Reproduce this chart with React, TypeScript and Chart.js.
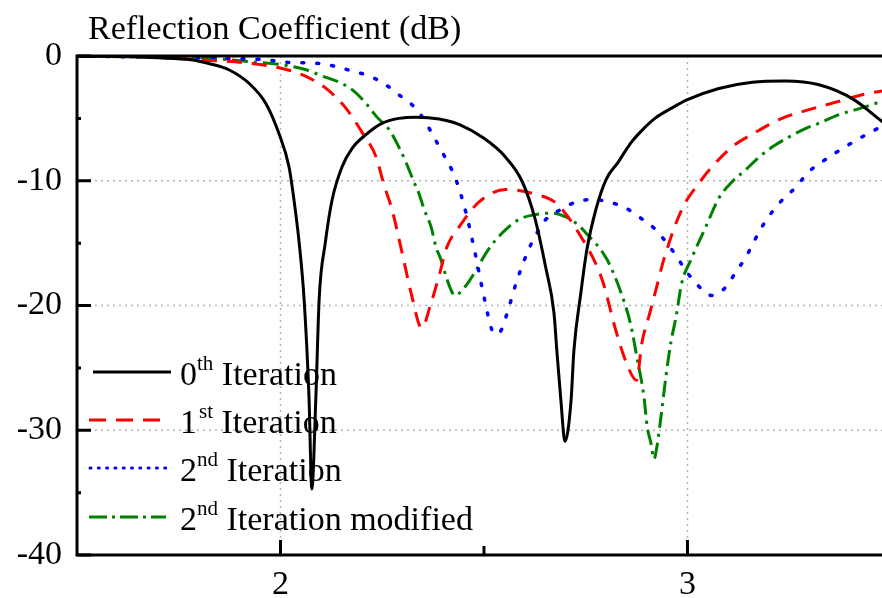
import React, { useEffect, useRef } from 'react';
import { Chart, registerables } from 'chart.js';

Chart.register(...registerables);

// ---- Data (frequency in GHz, reflection coefficient in dB) ----
const xIter0 = [1.5, 1.6, 1.7, 1.78, 1.824, 1.873, 1.923, 1.964, 1.996, 2.021, 2.033, 2.046, 2.058, 2.07, 2.077, 2.087, 2.095, 2.11, 2.127, 2.151, 2.176, 2.21, 2.249, 2.291, 2.333, 2.39, 2.44, 2.5, 2.55, 2.593, 2.625, 2.652, 2.672, 2.679, 2.689, 2.699, 2.714, 2.721, 2.738, 2.753, 2.775, 2.8, 2.83, 2.86, 2.89, 2.92, 2.96, 3.0, 3.077, 3.159, 3.24, 3.323, 3.404, 3.48];
const yIter0 = [0, -0.05, -0.15, -0.3, -0.6, -1.1, -2.2, -3.8, -6.2, -8.9, -11.5, -15, -19.5, -27.3, -34.7, -27.3, -19.5, -15, -11.5, -8.9, -7.4, -6.3, -5.4, -5.0, -4.9, -5.05, -5.5, -6.6, -8.0, -10.0, -13.0, -17.0, -20.6, -23.6, -27.6, -30.9, -27.6, -23.6, -19, -15.5, -12.3, -9.9, -8.5, -7.0, -5.9, -5.0, -4.2, -3.5, -2.6, -2.1, -2.0, -2.3, -3.4, -5.3];

const xIter1 = [1.5, 1.7, 1.8, 1.93, 2.004, 2.053, 2.112, 2.161, 2.2, 2.235, 2.254, 2.274, 2.299, 2.321, 2.347, 2.37, 2.389, 2.409, 2.439, 2.488, 2.554, 2.628, 2.677, 2.733, 2.79, 2.824, 2.85, 2.875, 2.888, 2.905, 2.922, 2.942, 2.986, 3.028, 3.06, 3.109, 3.168, 3.232, 3.299, 3.365, 3.429, 3.48];
const yIter1 = [0, -0.1, -0.3, -0.6, -1.0, -1.5, -2.6, -4.2, -6.1, -8.1, -10.3, -12.3, -15.8, -19.0, -21.8, -19.8, -17.7, -15.3, -13.7, -11.7, -10.7, -11.1, -11.8, -14.2, -17.9, -22, -24.6, -26, -23, -20.9, -18.8, -16.3, -12.3, -10.2, -8.9, -7.3, -6.1, -5.0, -4.3, -3.7, -3.1, -2.8];

const xIter2 = [1.5, 1.7, 1.85, 1.964, 2.013, 2.095, 2.176, 2.217, 2.254, 2.286, 2.323, 2.353, 2.372, 2.394, 2.431, 2.456, 2.475, 2.5, 2.52, 2.531, 2.542, 2.557, 2.579, 2.606, 2.63, 2.652, 2.689, 2.726, 2.765, 2.807, 2.849, 2.881, 2.918, 2.947, 2.972, 2.996, 3.023, 3.06, 3.095, 3.119, 3.144, 3.163, 3.183, 3.208, 3.237, 3.267, 3.294, 3.33, 3.367, 3.402, 3.439, 3.48];
const yIter2 = [0, -0.1, -0.2, -0.3, -0.5, -0.6, -1.2, -1.6, -2.2, -3.0, -3.9, -5.1, -6.2, -7.5, -9.9, -12.6, -15.3, -19.3, -22.0, -22.3, -22.0, -20.6, -18.2, -15.8, -14.2, -13.1, -12.3, -11.7, -11.5, -11.7, -12.2, -12.9, -13.8, -14.9, -16.0, -17.2, -18.3, -19.2, -18.5, -17.3, -16.1, -14.9, -13.7, -12.5, -11.4, -10.5, -9.4, -8.5, -7.7, -7.0, -6.3, -5.6];

const xIter2Mod = [1.5, 1.7, 1.832, 1.94, 1.98, 2.021, 2.063, 2.102, 2.144, 2.176, 2.21, 2.237, 2.267, 2.291, 2.308, 2.328, 2.34, 2.353, 2.37, 2.382, 2.394, 2.407, 2.421, 2.428, 2.456, 2.48, 2.505, 2.525, 2.554, 2.586, 2.628, 2.667, 2.701, 2.726, 2.751, 2.802, 2.837, 2.861, 2.876, 2.893, 2.901, 2.91, 2.918, 2.925, 2.935, 2.947, 2.959, 2.972, 2.986, 3.009, 3.045, 3.077, 3.109, 3.144, 3.176, 3.208, 3.249, 3.291, 3.33, 3.372, 3.414, 3.453, 3.48];
const yIter2Mod = [0, -0.1, -0.2, -0.5, -0.6, -0.8, -1.1, -1.6, -2.1, -2.7, -3.8, -4.9, -5.9, -7.3, -8.5, -10.1, -11.0, -12.3, -13.7, -15.3, -16.3, -17.7, -18.9, -19.2, -18.4, -17.2, -15.8, -14.9, -13.9, -13.1, -12.7, -12.6, -12.9, -13.4, -14.2, -16.3, -19.0, -21.6, -24.2, -27.3, -29.7, -31.0, -32.3, -31.3, -28.9, -25.7, -23.0, -20.9, -18.2, -16.3, -13.7, -11.4, -10.1, -9.1, -8.1, -7.3, -6.5, -5.8, -5.3, -4.7, -4.3, -3.9, -3.6];

// ---- Axes / labels ----
const X_MIN = 1.5;
const X_MAX = 3.478;
const Y_MIN = -40;
const Y_MAX = 0;
const xMajorTicks = [2, 3];
const xMinorTicks = [2.5];
const yMajorTicks = [0, -10, -20, -30, -40];
const yMinorTicks = [-5, -15, -25, -35];
const xGridValues = [2, 3];
const yGridValues = [-10, -20, -30];
const titleText = 'Reflection Coefficient (dB)';
const legendNumbers = ['0', '1', '2', '2'];
const legendSups = ['th', 'st', 'nd', 'nd'];
const legendTexts = ['Iteration', 'Iteration', 'Iteration', 'Iteration modified'];

const FONT = '"Liberation Serif", "Times New Roman", serif';

const seriesStyles = [
  { color: '#000000', dash: [] as number[], legendDash: [] as number[], cap: 'butt' },
  { color: '#ff0000', dash: [15, 10], legendDash: [17, 10], cap: 'butt' },
  { color: '#0000ff', dash: [2, 13], legendDash: [1, 7.3], cap: 'round' },
  { color: '#008000', dash: [16, 6, 3, 6], legendDash: [18, 5, 3, 5], cap: 'butt' },
];

const seriesX = [xIter0, xIter1, xIter2, xIter2Mod];
const seriesY = [yIter0, yIter1, yIter2, yIter2Mod];

const decorPlugin = {
  id: 'decor',
  beforeDatasetsDraw(chart: any) {
    const { ctx, chartArea: a, scales } = chart;
    const x = scales.x;
    const y = scales.y;
    ctx.save();
    // dotted grid lines
    ctx.strokeStyle = '#b4b4b4';
    ctx.lineWidth = 1.5;
    ctx.setLineDash([2, 4]);
    for (const v of xGridValues) {
      const px = x.getPixelForValue(v);
      ctx.beginPath();
      ctx.moveTo(px, a.top);
      ctx.lineTo(px, a.bottom);
      ctx.stroke();
    }
    for (const v of yGridValues) {
      const py = y.getPixelForValue(v);
      ctx.beginPath();
      ctx.moveTo(a.left, py);
      ctx.lineTo(a.right, py);
      ctx.stroke();
    }
    ctx.restore();

    // legend (inside plot, lower left)
    ctx.save();
    const rowY = [372, 420, 468, 517];
    for (let i = 0; i < 4; i++) {
      const st = seriesStyles[i];
      ctx.strokeStyle = st.color;
      ctx.lineWidth = 3;
      ctx.lineCap = st.cap;
      ctx.setLineDash(st.legendDash);
      ctx.beginPath();
      ctx.moveTo(i === 0 ? 93 : i === 2 ? 90 : 89, rowY[i]);
      ctx.lineTo(i === 0 ? 171 : 166, rowY[i]);
      ctx.stroke();
      ctx.setLineDash([]);
      ctx.lineCap = 'butt';
      ctx.fillStyle = '#000';
      ctx.textBaseline = 'alphabetic';
      ctx.textAlign = 'left';
      const base = rowY[i] + 13;
      let tx = 180;
      ctx.font = `34px ${FONT}`;
      ctx.fillText(legendNumbers[i], tx, base);
      tx += ctx.measureText(legendNumbers[i]).width;
      ctx.font = `21px ${FONT}`;
      ctx.fillText(legendSups[i], tx + (i === 1 ? 2 : 0), base - 15);
      tx += ctx.measureText(legendSups[i]).width + (i === 1 ? 2 : 0);
      ctx.font = `34px ${FONT}`;
      ctx.fillText(' ' + legendTexts[i], tx, base);
    }
    ctx.restore();
  },
  afterDatasetsDraw(chart: any) {
    const { ctx, chartArea: a, scales } = chart;
    const x = scales.x;
    const y = scales.y;
    ctx.save();
    ctx.strokeStyle = '#000';
    ctx.lineWidth = 3;
    ctx.setLineDash([]);
    // frame: top, left, bottom
    ctx.beginPath();
    ctx.moveTo(a.left, a.top);
    ctx.lineTo(a.right + 2, a.top);
    ctx.moveTo(a.left, a.top - 1.5);
    ctx.lineTo(a.left, a.bottom + 1.5);
    ctx.moveTo(a.left, a.bottom);
    ctx.lineTo(a.right + 2, a.bottom);
    ctx.stroke();
    // inward ticks
    ctx.beginPath();
    for (const v of xMajorTicks) {
      const px = x.getPixelForValue(v);
      ctx.moveTo(px, a.bottom);
      ctx.lineTo(px, a.bottom - 15);
    }
    for (const v of xMinorTicks) {
      const px = x.getPixelForValue(v);
      ctx.moveTo(px, a.bottom);
      ctx.lineTo(px, a.bottom - 9);
    }
    for (const v of yMajorTicks) {
      const py = y.getPixelForValue(v);
      ctx.moveTo(a.left, py);
      ctx.lineTo(a.left + 14, py);
    }
    for (const v of yMinorTicks) {
      const py = y.getPixelForValue(v);
      ctx.moveTo(a.left, py);
      ctx.lineTo(a.left + 4, py);
    }
    ctx.stroke();
    // title
    ctx.fillStyle = '#000';
    ctx.font = `34px ${FONT}`;
    ctx.textAlign = 'left';
    ctx.textBaseline = 'alphabetic';
    ctx.fillText(titleText, 88, 39);
    ctx.restore();
  },
};

export default function App() {
  const ref = useRef<HTMLCanvasElement | null>(null);

  useEffect(() => {
    if (!ref.current) return;
    const datasets = seriesX.map((xs, si) => ({
      label: legendTexts[si],
      data: xs.map((xv, i) => ({ x: xv, y: seriesY[si][i] })),
      borderColor: seriesStyles[si].color,
      backgroundColor: seriesStyles[si].color,
      borderWidth: si === 2 ? 3.5 : 3,
      borderDash: seriesStyles[si].dash,
      borderCapStyle: seriesStyles[si].cap as any,
      pointRadius: 0,
      fill: false,
      cubicInterpolationMode: 'monotone' as const,
    }));
    const chart = new Chart(ref.current, {
      type: 'line',
      data: { datasets },
      options: {
        animation: false,
        responsive: true,
        maintainAspectRatio: false,
        layout: { padding: { top: 56, left: 0, right: 0, bottom: 0 } },
        plugins: {
          legend: { display: false },
          title: { display: false },
          tooltip: { enabled: false },
        },
        scales: {
          x: {
            type: 'linear',
            min: X_MIN,
            max: X_MAX,
            grid: { display: false, drawTicks: false },
            border: { display: false },
            afterBuildTicks: (s: any) => {
              s.ticks = xMajorTicks.map((v) => ({ value: v }));
            },
            afterFit: (s: any) => {
              s.height = 43;
            },
            ticks: {
              padding: 10,
              color: '#000',
              font: { family: FONT, size: 34 },
              maxRotation: 0,
              callback: (v: any) => String(v),
            },
          },
          y: {
            type: 'linear',
            min: Y_MIN,
            max: Y_MAX,
            grid: { display: false, drawTicks: false },
            border: { display: false },
            afterBuildTicks: (s: any) => {
              s.ticks = yMajorTicks.map((v) => ({ value: v }));
            },
            afterFit: (s: any) => {
              s.width = 77;
            },
            ticks: {
              padding: 15,
              color: '#000',
              font: { family: FONT, size: 34 },
              callback: (v: any) => String(v),
            },
          },
        },
      },
      plugins: [decorPlugin],
    });
    return () => chart.destroy();
  }, []);

  return (
    <div style={{ position: 'fixed', left: 0, top: 0, width: 882, height: 598, background: '#fff' }}>
      <canvas ref={ref} />
    </div>
  );
}
